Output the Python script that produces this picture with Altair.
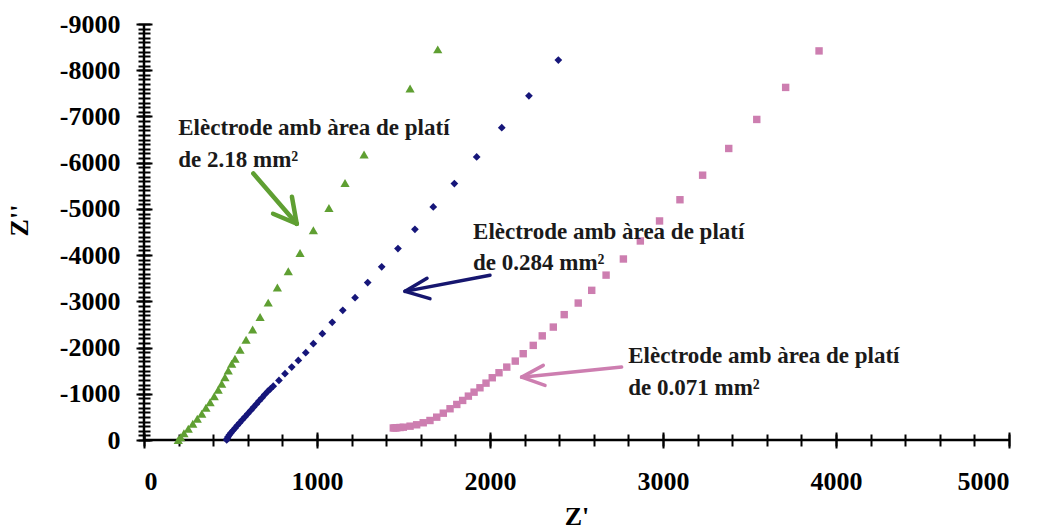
import altair as alt
import pandas as pd

# --- Nyquist data: Z' (real) and Z'' (imaginary) per electrode -------------
# Electrode with 2.18 mm2 of platinum (green triangles)
z_re_218 = [198, 212, 231, 256, 282, 308, 334, 358, 382, 406, 429, 449, 468,
            487, 507, 526, 555, 590, 628, 671, 718, 771, 834, 902, 979, 1069,
            1162, 1272, 1538, 1698]
z_im_218 = [0, -61, -147, -243, -351, -459, -567, -697, -819, -949, -1087,
            -1217, -1360, -1505, -1650, -1759, -1954, -2170, -2393, -2660,
            -2972, -3297, -3650, -4046, -4538, -5021, -5562, -6177, -7607,
            -8451]

# Electrode with 0.284 mm2 of platinum (blue diamonds)
z_re_0284 = [478, 481, 486, 494, 503, 514, 526, 539, 553, 568, 584, 600, 617,
             633, 649, 665, 682, 698, 715, 731, 747, 780, 815, 854, 892, 935,
             979, 1031, 1088, 1149, 1220, 1293, 1374, 1468, 1566, 1672, 1794,
             1923, 2068, 2225, 2395]
z_im_0284 = [0, -35, -69, -112, -156, -205, -256, -314, -373, -437, -502,
             -570, -639, -707, -775, -845, -914, -982, -1050, -1108, -1165,
             -1289, -1434, -1577, -1722, -1889, -2084, -2300, -2545, -2805,
             -3080, -3405, -3747, -4141, -4559, -5042, -5549, -6125, -6758,
             -7446, -8220]

# Electrode with 0.071 mm2 of platinum (pink squares)
z_re_0071 = [1441, 1451, 1461, 1480, 1499, 1538, 1576, 1614, 1653, 1692, 1730,
             1769, 1808, 1842, 1875, 1908, 1942, 1977, 2013, 2052, 2097, 2146,
             2192, 2250, 2302, 2366, 2429, 2510, 2588, 2671, 2771, 2869, 2980,
             3098, 3229, 3380, 3542, 3709, 3902]
z_im_0071 = [-260, -261, -264, -270, -277, -299, -329, -373, -422, -494, -580,
             -676, -769, -856, -949, -1035, -1130, -1230, -1347, -1455, -1577,
             -1707, -1867, -2047, -2253, -2443, -2712, -2963, -3238, -3567,
             -3916, -4306, -4739, -5198, -5729, -6307, -6935, -7628, -8418]

# Axis ticks
x_major = [0, 1000, 2000, 3000, 4000, 5000]
x_minor = list(range(0, 5001, 200))
y_major = [0, -1000, -2000, -3000, -4000, -5000, -6000, -7000, -8000, -9000]
y_minor = list(range(0, -9001, -100))

# Annotation text (left edge / baseline positions in data units)
note_x = [198, 198, 1902, 1902, 2799, 2799]
note_y = [-6595, -5909, -4358, -3671, -1663, -964]
note_txt = ["Elèctrode amb àrea de platí", "de 2.18 mm²",
            "Elèctrode amb àrea de platí", "de 0.284 mm²",
            "Elèctrode amb àrea de platí", "de 0.071 mm²"]

# Arrow segments: shaft + two head strokes for each label
arrow_x = [632, 746, 855, 2000, 1636, 1653, 2761, 2308, 2318]
arrow_y = [-5766, -4895, -5263, -3563, -3498, -3058, -1577, -1614, -1180]
arrow_x2 = [883, 883, 883, 1509, 1509, 1509, 2183, 2183, 2183]
arrow_y2 = [-4678, -4678, -4678, -3216, -3216, -3216, -1360, -1360, -1360]
arrow_col = ["#5f9f32"] * 3 + ["#16166f"] * 3 + ["#cd7eb0"] * 3
arrow_w = [4.5] * 3 + [3.5] * 3 + [3.5] * 3

GREEN, BLUE, PINK = "#5f9f32", "#16167a", "#cd7eb0"
FONT = "Liberation Serif"

xs = alt.Scale(domain=[0, 5000], nice=False, zero=False)
ys = alt.Scale(domain=[-9000, 0], nice=False, zero=False, reverse=True)

df218 = pd.DataFrame({"zr": z_re_218, "zi": z_im_218})
df0284 = pd.DataFrame({"zr": z_re_0284, "zi": z_im_0284})
df0071 = pd.DataFrame({"zr": z_re_0071, "zi": z_im_0071})
notes = pd.DataFrame({"zr": note_x, "zi": note_y, "t": note_txt})
arrows = pd.DataFrame({"zr": arrow_x, "zi": arrow_y, "zr2": arrow_x2,
                       "zi2": arrow_y2, "c": arrow_col, "w": arrow_w})
frame = pd.DataFrame({"zr": [0, 0], "zi": [0, 0], "zr2": [5000, 0],
                      "zi2": [0, -9000]})

label_expr = "datum.value + ''"

# Minor ticks (crossing the axis line)
x_minor_axis = alt.Axis(orient="bottom", values=x_minor, labels=False,
                        tickSize=12, offset=-6, tickWidth=2, domain=False,
                        grid=False, title=None)
y_minor_axis = alt.Axis(orient="left", values=y_minor, labels=False,
                        tickSize=12, offset=-6, tickWidth=2, domain=False,
                        grid=False, title=None)
# Major ticks with labels and titles
x_major_axis = alt.Axis(orient="bottom", values=x_major, labelExpr=label_expr,
                        tickSize=16, offset=-8, tickWidth=2, domain=False,
                        grid=False, labelPadding=20, title="Z'",
                        titlePadding=9)
y_major_axis = alt.Axis(orient="left", values=y_major, labelExpr=label_expr,
                        tickSize=16, offset=-8, tickWidth=2, domain=False,
                        grid=False, labelPadding=16, title="Z''",
                        titlePadding=27, titleY=196)

minor_layer = alt.Chart(frame).mark_point(opacity=0).encode(
    x=alt.X("zr:Q", scale=xs, axis=x_minor_axis),
    y=alt.Y("zi:Q", scale=ys, axis=y_minor_axis),
)
major_layer = alt.Chart(frame).mark_point(opacity=0).encode(
    x=alt.X("zr:Q", scale=xs, axis=x_major_axis),
    y=alt.Y("zi:Q", scale=ys, axis=y_major_axis),
)

axis_lines = alt.Chart(frame).mark_rule(color="black", strokeWidth=2.5).encode(
    x=alt.X("zr:Q", scale=xs, axis=None),
    y=alt.Y("zi:Q", scale=ys, axis=None),
    x2="zr2:Q",
    y2="zi2:Q",
)


def series(df, shape, color, size):
    return alt.Chart(df).mark_point(shape=shape, filled=True, color=color,
                                    size=size, opacity=1, strokeWidth=0).encode(
        x=alt.X("zr:Q", scale=xs, axis=None),
        y=alt.Y("zi:Q", scale=ys, axis=None),
    )


pts218 = series(df218, "triangle-up", GREEN, 85)
pts0284 = series(df0284, "diamond", BLUE, 60)
pts0071 = series(df0071, "square", PINK, 55)

arrow_layer = alt.Chart(arrows).mark_rule(strokeCap="round").encode(
    x=alt.X("zr:Q", scale=xs, axis=None),
    y=alt.Y("zi:Q", scale=ys, axis=None),
    x2="zr2:Q",
    y2="zi2:Q",
    color=alt.Color("c:N", scale=None),
    strokeWidth=alt.StrokeWidth("w:Q", scale=None),
)

text_layer = alt.Chart(notes).mark_text(
    align="left", baseline="alphabetic", font=FONT, fontWeight="bold",
    fontSize=23, color="#1a1a1a"
).encode(
    x=alt.X("zr:Q", scale=xs, axis=None),
    y=alt.Y("zi:Q", scale=ys, axis=None),
    text="t:N",
)

chart = alt.layer(
    minor_layer, major_layer, axis_lines, pts218, pts0284, pts0071,
    arrow_layer, text_layer
).resolve_axis(
    x="independent", y="independent"
).properties(
    width=865, height=416,
    autosize=alt.AutoSizeParams(type="none"),
    padding={"left": 144, "top": 24, "right": 31, "bottom": 92},
    background="white",
).configure_view(
    stroke=None
).configure_axis(
    labelFont=FONT, labelFontWeight="bold", labelFontSize=26,
    labelColor="black", tickColor="black",
    titleFont=FONT, titleFontWeight="bold", titleFontSize=26,
    titleColor="black",
)

chart.save("out.html", embed_options={"renderer": "svg", "actions": False})
